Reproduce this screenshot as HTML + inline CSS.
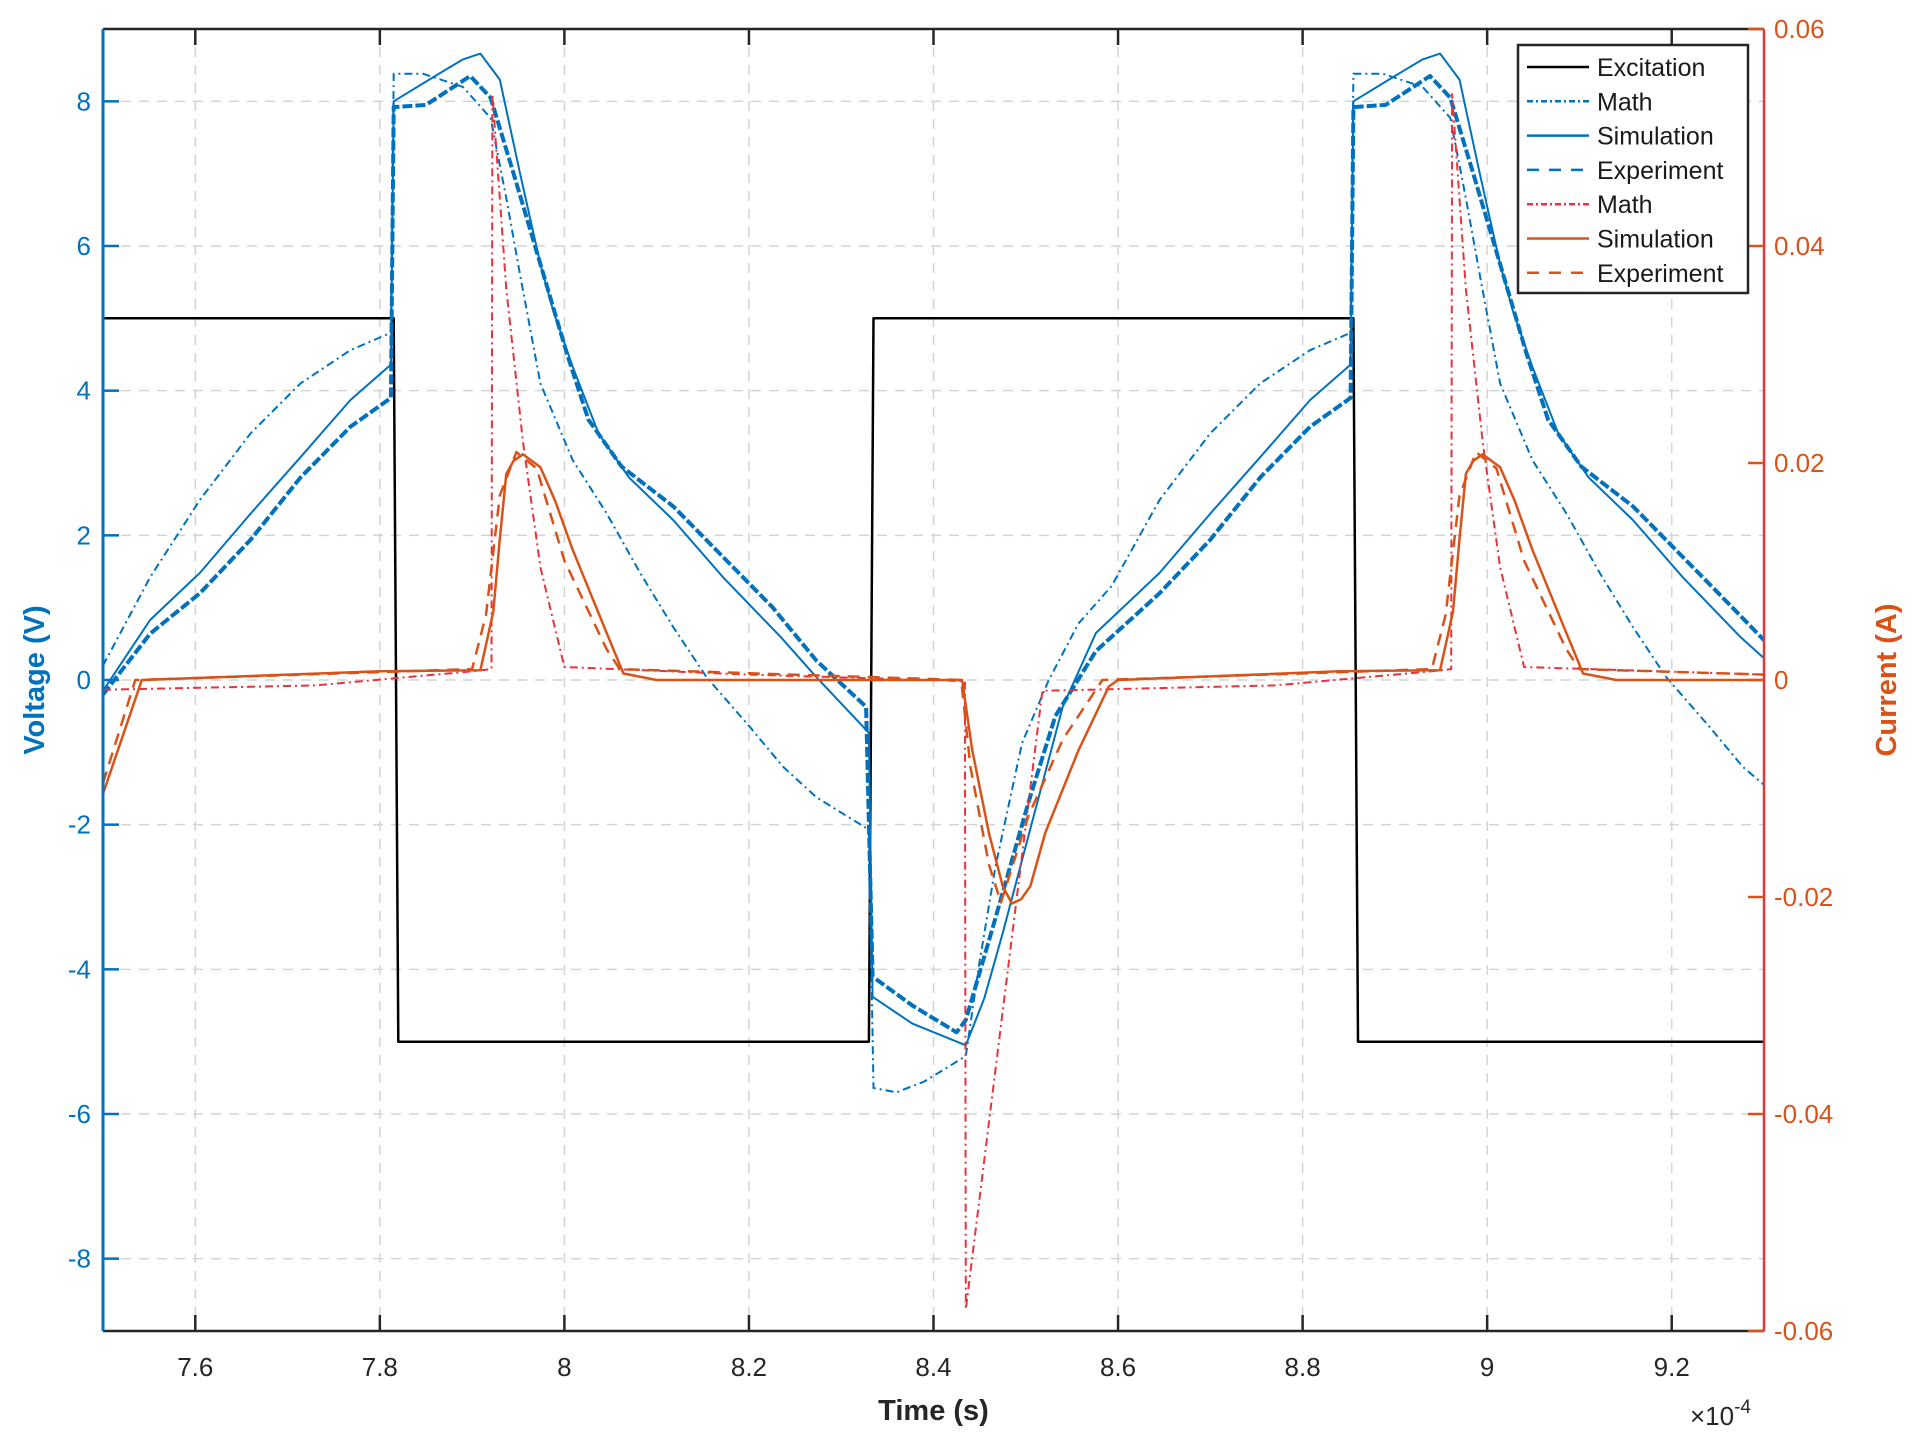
<!DOCTYPE html>
<html><head><meta charset="utf-8">
<style>
html,body{margin:0;padding:0;background:#fff;}
svg{display:block;font-family:"Liberation Sans",sans-serif;}
</style></head>
<body>
<svg id="chart" width="1915" height="1454" viewBox="0 0 1915 1454"></svg>
<script>
// ---- data (time in units of 1e-4 s) ----
const xTicks = [7.6,7.8,8.0,8.2,8.4,8.6,8.8,9.0,9.2];
const xTickLabels = ["7.6","7.8","8","8.2","8.4","8.6","8.8","9","9.2"];
const yTicks = [-8,-6,-4,-2,0,2,4,6,8];
const yTickLabels = ["-8","-6","-4","-2","0","2","4","6","8"];
const y2Ticks = [-0.06,-0.04,-0.02,0,0.02,0.04,0.06];
const y2TickLabels = ["-0.06","-0.04","-0.02","0","0.02","0.04","0.06"];

const excT = [7.5,7.815,7.82,8.33,8.335,8.855,8.86,9.3];
const excV = [5,5,-5,-5,5,5,-5,-5];

const vMathT = [7.5,7.551,7.605,7.66,7.714,7.768,7.812,7.815,7.847,7.89,7.92,7.937,7.952,7.974,8.009,8.046,8.082,8.118,8.154,8.201,8.237,8.273,8.33,8.335,8.36,8.39,8.435,8.449,8.467,8.496,8.525,8.557,8.593,8.645,8.7,8.754,8.808,8.852,8.855,8.887,8.93,8.96,8.977,8.992,9.014,9.049,9.086,9.122,9.158,9.194,9.241,9.277,9.3];
const vMathV = [0.2,1.42,2.49,3.41,4.1,4.56,4.8,8.38,8.38,8.2,7.77,6.66,5.6,4.1,3.04,2.3,1.48,0.73,0.04,-0.65,-1.2,-1.62,-2.07,-5.64,-5.7,-5.55,-5.2,-3.97,-2.59,-0.87,0.0,0.78,1.3,2.49,3.41,4.1,4.56,4.8,8.38,8.38,8.2,7.77,6.66,5.6,4.1,3.04,2.3,1.48,0.73,0.04,-0.65,-1.2,-1.45];

const vSimT = [7.5,7.551,7.605,7.66,7.714,7.768,7.812,7.815,7.86,7.89,7.909,7.93,7.952,7.974,7.988,8.009,8.037,8.07,8.118,8.172,8.234,8.273,8.33,8.334,8.377,8.435,8.455,8.475,8.504,8.54,8.576,8.645,8.7,8.754,8.808,8.852,8.855,8.9,8.93,8.949,8.97,8.992,9.014,9.028,9.049,9.077,9.11,9.158,9.212,9.274,9.3];
const vSimV = [-0.15,0.83,1.48,2.3,3.08,3.87,4.36,8.0,8.35,8.58,8.66,8.3,7.0,5.75,5.1,4.33,3.41,2.8,2.21,1.42,0.6,0.04,-0.73,-4.38,-4.75,-5.05,-4.4,-3.5,-2.1,-0.37,0.65,1.48,2.3,3.08,3.87,4.36,8.0,8.35,8.58,8.66,8.3,7.0,5.75,5.1,4.33,3.41,2.8,2.21,1.42,0.6,0.3];

const vExpT = [7.5,7.551,7.605,7.66,7.714,7.768,7.812,7.815,7.85,7.898,7.92,7.945,7.974,8.003,8.026,8.062,8.118,8.172,8.226,8.273,8.327,8.334,8.377,8.425,8.435,8.467,8.503,8.532,8.576,8.645,8.7,8.754,8.808,8.852,8.855,8.89,8.938,8.96,8.985,9.014,9.043,9.066,9.102,9.158,9.212,9.266,9.3];
const vExpV = [-0.2,0.64,1.2,1.94,2.8,3.5,3.9,7.92,7.95,8.35,8.05,7.0,5.75,4.5,3.6,2.95,2.4,1.7,1.0,0.27,-0.37,-4.1,-4.5,-4.87,-4.7,-3.3,-1.69,-0.5,0.4,1.2,1.94,2.8,3.5,3.9,7.92,7.95,8.35,8.05,7.0,5.75,4.5,3.6,2.95,2.4,1.7,1.0,0.55];

const iMathT = [7.5,7.73,7.9,7.921,7.922,7.937,7.955,7.974,8.0,8.2,8.434,8.435,8.518,8.77,8.94,8.961,8.962,8.977,8.995,9.014,9.04,9.3];
const iMathI = [-0.0009,-0.0005,0.0008,0.001,0.054,0.036,0.022,0.0104,0.0012,0.0005,-0.0001,-0.058,-0.001,-0.0005,0.0008,0.001,0.054,0.036,0.022,0.0104,0.0012,0.0005];

const iSimT = [7.5,7.542,7.8,7.909,7.923,7.93,7.937,7.945,7.955,7.974,7.99,8.009,8.046,8.064,8.1,8.431,8.442,8.46,8.475,8.485,8.495,8.505,8.521,8.557,8.59,8.6,8.84,8.949,8.963,8.97,8.977,8.985,8.995,9.014,9.03,9.049,9.086,9.104,9.14,9.3];
const iSimI = [-0.0105,0,0.0008,0.0009,0.0063,0.013,0.019,0.0202,0.0208,0.0196,0.0165,0.012,0.0043,0.0006,0,0,-0.0065,-0.0141,-0.019,-0.0206,-0.0202,-0.019,-0.0141,-0.0065,-0.0006,0,0.0008,0.0009,0.0063,0.013,0.019,0.0202,0.0208,0.0196,0.0165,0.012,0.0043,0.0006,0,0];

const iExpT = [7.5,7.535,7.9,7.915,7.93,7.948,7.97,8.0,8.046,8.06,8.43,8.44,8.46,8.473,8.503,8.54,8.583,8.94,8.955,8.97,8.988,9.01,9.04,9.086,9.1,9.3];
const iExpI = [-0.0095,0,0.001,0.006,0.017,0.021,0.0195,0.011,0.0028,0.001,0,-0.008,-0.017,-0.0205,-0.0125,-0.0055,0,0.001,0.006,0.017,0.021,0.0195,0.011,0.0028,0.001,0.0005];

// ---- layout ----
const L=103, R=1764, T=29, B=1331;
const X = t => L + (t-7.5)/(9.3-7.5)*(R-L);
const Y = v => T + (9-v)/18*(B-T);
const Y2 = a => T + (0.06-a)/0.12*(B-T);
const BLUE="#0072bd", ORANGE="#d95319", RED="#e8323c";
const svg=document.getElementById('chart');
const NS="http://www.w3.org/2000/svg";
function mk(tag, attrs, parent){const e=document.createElementNS(NS,tag);for(const k in attrs)e.setAttribute(k,attrs[k]);(parent||svg).appendChild(e);return e;}

// grid
const grid=mk('g',{});


xTicks.forEach(t=>mk('line',{x1:X(t),x2:X(t),y1:T,y2:B,stroke:"#d4d4d4","stroke-width":1.5,"stroke-dasharray":"10,8"},grid));
yTicks.forEach(v=>mk('line',{x1:L,x2:R,y1:Y(v),y2:Y(v),stroke:"#d4d4d4","stroke-width":1.5,"stroke-dasharray":"10,8"},grid));

function series(ts, vs, ymap, color, dash, w, name){
  const d=ts.map((t,i)=>(i?'L':'M')+X(t).toFixed(1)+','+ymap(vs[i]).toFixed(1)).join(' ');
  const p=mk('path',{d:d,fill:'none',stroke:color,'stroke-width':w,'stroke-dasharray':dash,'stroke-linejoin':'round'});
  
  
}
series(excT,excV,Y,"#000","",2.5,'excitation-line');
series(vMathT,vMathV,Y,BLUE,"8,4,2,4",2,'voltage-math-line');
series(vSimT,vSimV,Y,BLUE,"",2,'voltage-simulation-line');
series(vExpT,vExpV,Y,BLUE,"10,3",4,'voltage-experiment-line');
series(iMathT,iMathI,Y2,RED,"8,4,2,4",2,'current-math-line');
series(iSimT,iSimI,Y2,ORANGE,"",2.5,'current-simulation-line');
series(iExpT,iExpI,Y2,ORANGE,"12,8",2.5,'current-experiment-line');

// axes frame
mk('line',{x1:L,x2:R,y1:T,y2:T,stroke:"#262626","stroke-width":2.5});
mk('line',{x1:L,x2:R,y1:B,y2:B,stroke:"#262626","stroke-width":2.5});
const la=mk('line',{x1:L,x2:L,y1:T,y2:B,stroke:BLUE,"stroke-width":3});


const ra=mk('line',{x1:R,x2:R,y1:T,y2:B,stroke:RED,"stroke-width":2.5});



xTicks.forEach((t,i)=>{
  mk('line',{x1:X(t),x2:X(t),y1:B,y2:B-16,stroke:"#262626","stroke-width":2.5});
  mk('line',{x1:X(t),x2:X(t),y1:T,y2:T+16,stroke:"#262626","stroke-width":2.5});
  const tx=mk('text',{x:X(t),y:B+45,'text-anchor':'middle','font-size':26,fill:"#262626"});
  tx.textContent=xTickLabels[i];
  
  
});
yTicks.forEach((v,i)=>{
  mk('line',{x1:L,x2:L+16,y1:Y(v),y2:Y(v),stroke:BLUE,"stroke-width":2.5});
  const tx=mk('text',{x:L-12,y:Y(v)+9,'text-anchor':'end','font-size':26,fill:BLUE});
  tx.textContent=yTickLabels[i];
  
  
});
y2Ticks.forEach((a,i)=>{
  mk('line',{x1:R,x2:R-16,y1:Y2(a),y2:Y2(a),stroke:ORANGE,"stroke-width":2.5});
  const tx=mk('text',{x:R+10,y:Y2(a)+9,'text-anchor':'start','font-size':26,fill:ORANGE});
  tx.textContent=y2TickLabels[i];
  
  
});

// titles
let t1=mk('text',{x:(L+R)/2,y:1420,'text-anchor':'middle','font-size':29,'font-weight':'bold',fill:"#262626"});
t1.textContent="Time (s)";


let t2=mk('text',{x:0,y:0,'text-anchor':'middle','font-size':29,'font-weight':'bold',fill:BLUE,transform:`translate(44,${(T+B)/2}) rotate(-90)`});
t2.textContent="Voltage (V)";


let t3=mk('text',{x:0,y:0,'text-anchor':'middle','font-size':29,'font-weight':'bold',fill:ORANGE,transform:`translate(1896,${(T+B)/2}) rotate(-90)`});
t3.textContent="Current (A)";


let t4=mk('text',{x:1690,y:1425,'font-size':26,fill:"#262626"});
t4.innerHTML='×10<tspan dy="-12" font-size="19">-4</tspan>';



// legend
const leg=mk('g',{});


mk('rect',{x:1518,y:45,width:230,height:248,fill:"#fff",stroke:"#262626","stroke-width":2.5},leg);
const legLabels=["Excitation","Math","Simulation","Experiment","Math","Simulation","Experiment"];
const legColors=["#000",BLUE,BLUE,BLUE,RED,ORANGE,ORANGE];
const legDash=["","6,3,2,3","","12,10","6,3,2,3","","12,10"];
legLabels.forEach((lab,i)=>{
  const y=67+i*34.3;
  const g=mk('g',{},leg);
  
  
  mk('line',{x1:1527,x2:1589,y1:y,y2:y,stroke:legColors[i],'stroke-width':2.5,'stroke-dasharray':legDash[i]},g);
  const tx=mk('text',{x:1597,y:y+9,'font-size':25,fill:"#1a1a1a"},g);
  tx.textContent=lab;
});
</script>
</body></html>
